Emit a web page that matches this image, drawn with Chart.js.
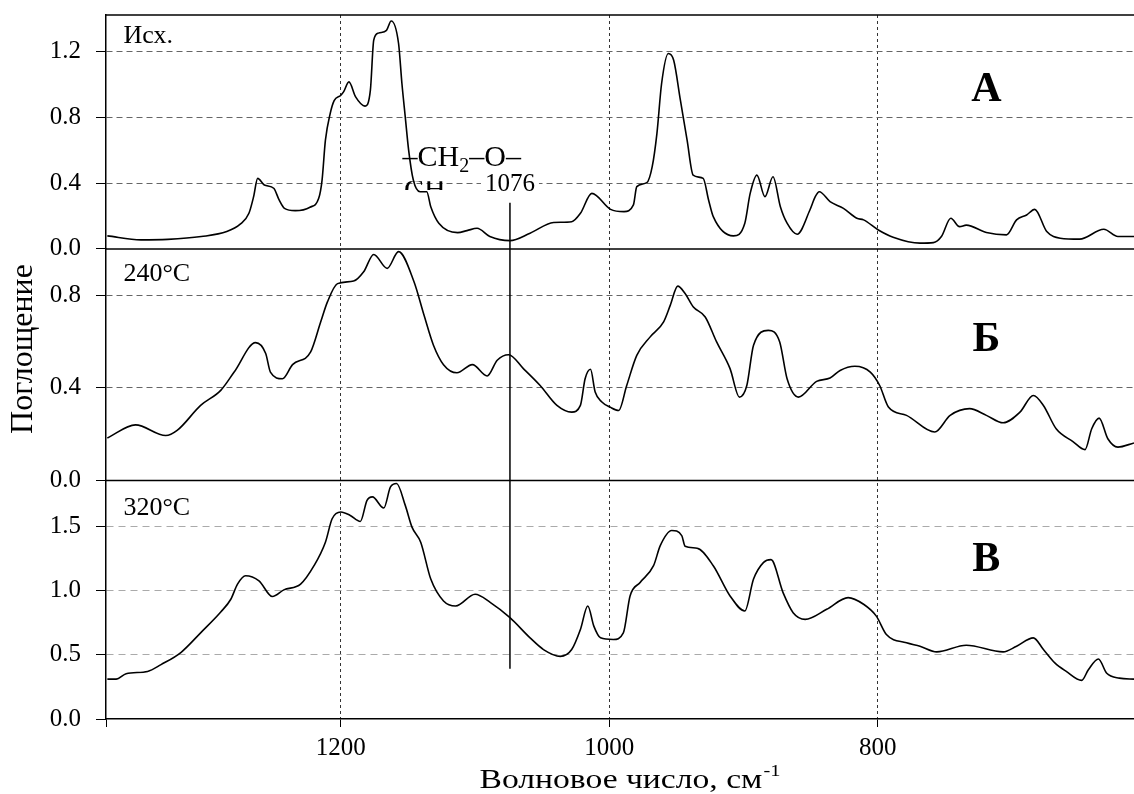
<!DOCTYPE html>
<html>
<head>
<meta charset="utf-8">
<script src="https://cdn.jsdelivr.net/npm/chart.js@4.4.1/dist/chart.umd.min.js"></script>
<style>
  html, body { margin: 0; padding: 0; background: #fff; }
  #wrap { width: 1134px; height: 794px; }
</style>
</head>
<body>
<div id="wrap"><canvas id="ir" width="1134" height="794"></canvas></div>
<script>
// spectrum А (initial sample): wavenumber, cm-1 and absorbance
var waveA = [1374, 1349, 1329, 1304, 1285, 1275, 1268.5, 1265, 1262, 1257, 1250, 1246, 1242, 1234, 1223, 1216.5, 1214, 1211.5, 1208, 1205,
    1200, 1198, 1194, 1189, 1182, 1178, 1175.5, 1172, 1166, 1162.5, 1157, 1154.5, 1152, 1149.5, 1146, 1141, 1136, 1133, 1127, 1113,
    1106, 1098.5, 1089, 1074, 1059, 1041.5, 1028, 1021.5, 1013, 999, 989, 982, 979.5, 972, 968, 964.5, 961, 956, 952, 947,
    942, 937.5, 930, 926, 922.5, 907.5, 899, 895, 890, 884, 878, 872.5, 867.5, 860, 850.5, 846.5, 843.5, 835.5, 825.5, 815.5,
    810.5, 799.5, 788.5, 768.5, 758.5, 752.5, 745.5, 739, 734, 719, 704, 696.5, 689, 683, 674, 664, 649.5, 631.5, 621, 609];
var absA = [0.079, 0.055, 0.058, 0.075, 0.105, 0.15, 0.216, 0.317, 0.428, 0.388, 0.368, 0.297, 0.246, 0.232, 0.253, 0.307, 0.418, 0.66, 0.82, 0.90,
    0.933, 0.953, 1.014, 0.923, 0.867, 0.964, 1.267, 1.31, 1.327, 1.384, 1.247, 1.004, 0.80, 0.60, 0.418, 0.347, 0.347, 0.256, 0.156, 0.099,
    0.111, 0.125, 0.075, 0.05, 0.095, 0.16, 0.165, 0.216, 0.337, 0.24, 0.226, 0.267, 0.378, 0.402, 0.499, 0.70, 1.004, 1.186, 1.145, 0.903,
    0.66, 0.448, 0.428, 0.297, 0.196, 0.079, 0.156, 0.337, 0.448, 0.317, 0.438, 0.256, 0.156, 0.089, 0.236, 0.317, 0.347, 0.287, 0.246, 0.186,
    0.176, 0.115, 0.071, 0.035, 0.038, 0.075, 0.186, 0.135, 0.144, 0.099, 0.085, 0.176, 0.206, 0.24, 0.105, 0.065, 0.059, 0.119, 0.075, 0.075];

// spectrum Б (240°C)
var waveB = [1374, 1353, 1330.5, 1322, 1304.5, 1289.5, 1279.5, 1263.5, 1256, 1252.5, 1243.5, 1236, 1222.5, 1215, 1210, 1202.5, 1190.5, 1183, 1175.5, 1165.5,
    1157, 1145.5, 1138, 1131, 1123.5, 1113.5, 1102, 1091, 1083.5, 1075, 1064, 1051.5, 1039, 1028, 1021.5, 1018, 1014, 1010.5, 1005.5, 999.5,
    993, 987, 979.5, 969.5, 959.5, 954.5, 949, 943.5, 937.5, 928.5, 920, 910, 903, 897.5, 892.5, 881.5, 873, 867.5, 859, 845.5,
    835.5, 828, 817, 805.5, 798.5, 792, 778.5, 757.5, 746, 731.5, 719, 706.5, 694, 684, 676.5, 667, 654.5, 645.5, 640.5, 635,
    628.5, 621, 609];
var absB = [0.183, 0.24, 0.194, 0.216, 0.324, 0.389, 0.468, 0.595, 0.548, 0.468, 0.439, 0.50, 0.555, 0.685, 0.771, 0.85, 0.861, 0.901, 0.976, 0.916,
    0.988, 0.858, 0.713, 0.584, 0.50, 0.465, 0.50, 0.451, 0.519, 0.543, 0.483, 0.41, 0.324, 0.295, 0.324, 0.439, 0.48, 0.382, 0.339, 0.317,
    0.302, 0.41, 0.54, 0.62, 0.685, 0.757, 0.839, 0.807, 0.75, 0.706, 0.598, 0.483, 0.36, 0.41, 0.584, 0.648, 0.598, 0.439, 0.36, 0.428,
    0.442, 0.475, 0.493, 0.468, 0.41, 0.317, 0.281, 0.209, 0.281, 0.31, 0.281, 0.249, 0.295, 0.367, 0.324, 0.223, 0.168, 0.133, 0.223, 0.269,
    0.18, 0.144, 0.162];

// spectrum В (320°C)
var waveV = [1374, 1367.5, 1360, 1344, 1334, 1319, 1304.5, 1289.5, 1282, 1277, 1271, 1261, 1251, 1242.5, 1230, 1220, 1211.5, 1206.5, 1200, 1193,
    1185.5, 1180.5, 1176.5, 1168, 1163, 1158.5, 1152, 1147, 1140.5, 1133, 1123.5, 1114.5, 1100, 1088.5, 1074, 1059, 1049, 1036.5, 1028, 1021.5,
    1016, 1011.5, 1006.5, 997, 989.5, 984.5, 977, 967, 962, 953.5, 946, 943.5, 934.5, 922.5, 910, 899, 892.5, 885, 879.5, 870.5,
    863, 854, 838, 822, 810.5, 801, 793.5, 778.5, 768.5, 756, 734, 706.5, 696.5, 684, 676.5, 668, 659.5, 648, 643, 635.5,
    629.5, 620, 609];
var absV = [0.31, 0.31, 0.352, 0.37, 0.423, 0.519, 0.67, 0.832, 0.931, 1.049, 1.114, 1.074, 0.952, 1.004, 1.049, 1.192, 1.375, 1.557, 1.61, 1.583,
    1.536, 1.70, 1.727, 1.641, 1.805, 1.831, 1.661, 1.492, 1.375, 1.088, 0.918, 0.879, 0.97, 0.905, 0.788, 0.631, 0.54, 0.487, 0.54, 0.696,
    0.879, 0.722, 0.631, 0.618, 0.67, 0.957, 1.062, 1.192, 1.348, 1.466, 1.426, 1.343, 1.328, 1.192, 0.957, 0.84, 1.088, 1.218, 1.239, 0.983,
    0.827, 0.775, 0.853, 0.944, 0.892, 0.80, 0.657, 0.592, 0.566, 0.522, 0.574, 0.522, 0.566, 0.631, 0.54, 0.436, 0.37, 0.30, 0.383, 0.467,
    0.358, 0.318, 0.31];

// axis ticks
var xTicks = [1200, 1000, 800];
var ticksA = [0, 0.4, 0.8, 1.2];
var ticksB = [0, 0.4, 0.8];
var ticksV = [0, 0.5, 1.0, 1.5];

// panel captions
var panelLetters = ['А', 'Б', 'В'];
var panelTemps = ['Исх.', '240°C', '320°C'];
var bandWave = 1074;
var bandLabel = '1076';

var SERIF = '"Liberation Serif", "Times New Roman", serif';
Chart.defaults.font.family = SERIF;
Chart.defaults.color = '#000';

function toPoints(w, a) {
    return w.map(function (x, i) { return { x: x, y: a[i] }; });
}

function spectrum(w, a, axis) {
    return {
        data: toPoints(w, a),
        yAxisID: axis,
        borderColor: '#000',
        borderWidth: 1.6,
        pointRadius: 0,
        cubicInterpolationMode: 'monotone',
        fill: false
    };
}

// one y axis per panel, stacked on the left
function panelAxis(maxVal, ticks, weight, gridColor, dash) {
    return {
        type: 'linear',
        position: 'left',
        stack: 'spectra',
        stackWeight: weight,
        min: 0,
        max: maxVal,
        afterBuildTicks: function (s) { s.ticks = ticks.map(function (v) { return { value: v }; }); },
        afterFit: function (s) {
            s.width = 106;
            // labels never reach the chart edge, so no extra room above
            s.paddingTop = 0;
            s.paddingBottom = 0;
        },
        ticks: {
            font: { size: 25, family: SERIF },
            color: '#000',
            padding: 15,
            autoSkip: false,
            callback: function (v) { return v.toFixed(1); }
        },
        grid: {
            color: function (ctx) { return ctx.tick && ctx.tick.value === 0 ? 'rgba(0,0,0,0)' : gridColor; },
            tickColor: '#000',
            tickLength: 10,
            lineWidth: 1
        },
        border: { color: '#000', width: 1.5, dash: dash }
    };
}

// texts, panel separators and the 1076 marker
var annotate = {
    id: 'annotate',
    afterDatasetsDraw: function (chart) {
        var ctx = chart.ctx;
        var area = chart.chartArea;
        var x = chart.scales.x;
        var panels = [chart.scales.yA, chart.scales.yB, chart.scales.yV];

        ctx.save();
        // solid lines between the panels
        ctx.strokeStyle = '#000';
        ctx.lineWidth = 1.5;
        panels.forEach(function (s) {
            ctx.beginPath();
            ctx.moveTo(area.left, s.top);
            ctx.lineTo(area.right, s.top);
            ctx.stroke();
        });

        // vertical marker of the CH2-O band
        var bx = x.getPixelForValue(bandWave);
        ctx.beginPath();
        ctx.moveTo(bx, chart.scales.yA.getPixelForValue(0.28));
        ctx.lineTo(bx, chart.scales.yV.getPixelForValue(0.39));
        ctx.stroke();

        // temperature captions and panel letters
        var tempY = [1.25, 0.86, 1.59];
        var letterY = [0.90, 0.56, 1.15];
        ctx.fillStyle = '#000';
        ctx.textBaseline = 'alphabetic';
        panels.forEach(function (s, i) {
            ctx.font = '26px ' + SERIF;
            ctx.textAlign = 'left';
            ctx.fillText(panelTemps[i], x.getPixelForValue(1362), s.getPixelForValue(tempY[i]));
            ctx.font = 'bold 42px ' + SERIF;
            ctx.textAlign = 'center';
            ctx.fillText(panelLetters[i], x.getPixelForValue(719), s.getPixelForValue(letterY[i]));
        });

        // band label with white backing
        var yA = chart.scales.yA;
        ctx.font = '25px ' + SERIF;
        ctx.textAlign = 'center';
        var lw = ctx.measureText(bandLabel).width;
        var ly = yA.getPixelForValue(0.35);
        ctx.fillStyle = '#fff';
        ctx.fillRect(bx - lw / 2 - 4, ly - 19, lw + 8, 23);
        ctx.fillStyle = '#000';
        ctx.fillText(bandLabel, bx, ly);

        // -CH2-O- formula
        var fx = x.getPixelForValue(1154);
        var fy = yA.getPixelForValue(0.505);
        ctx.textAlign = 'left';
        ctx.font = '30px ' + SERIF;
        ctx.fillText('–CH', fx, fy);
        fx += ctx.measureText('–CH').width;
        ctx.font = '20px ' + SERIF;
        ctx.fillText('2', fx, fy + 6);
        fx += ctx.measureText('2').width;
        ctx.font = '30px ' + SERIF;
        ctx.fillText('–O–', fx, fy);

        // partly hidden "CH" under the formula
        ctx.save();
        ctx.beginPath();
        ctx.rect(x.getPixelForValue(1154), yA.getPixelForValue(0.41), 60, yA.getPixelForValue(0.357) - yA.getPixelForValue(0.41));
        ctx.clip();
        ctx.fillText('CH', x.getPixelForValue(1153), yA.getPixelForValue(0.305));
        ctx.restore();

        // axis titles
        ctx.font = '32px ' + SERIF;
        ctx.save();
        ctx.translate(24, (area.top + area.bottom) / 2 - 18);
        ctx.rotate(-Math.PI / 2);
        ctx.textAlign = 'center';
        ctx.textBaseline = 'middle';
        ctx.fillText('Поглощение', 0, 0);
        ctx.restore();

        // x title, a bit wider than the plain font
        var main = 'Волновое число, см';
        var stretch = 1.2;
        ctx.font = '28px ' + SERIF;
        var w1 = ctx.measureText(main).width;
        ctx.font = '17px ' + SERIF;
        var w2 = ctx.measureText('-1').width;
        var cx = (area.left + area.right) / 2 + 10;
        ctx.save();
        ctx.translate(cx - stretch * (w1 + w2 + 1) / 2, 788);
        ctx.scale(stretch, 1);
        ctx.textAlign = 'left';
        ctx.font = '28px ' + SERIF;
        ctx.fillText(main, 0, 0);
        ctx.font = '17px ' + SERIF;
        ctx.fillText('-1', w1 + 1, -12);
        ctx.restore();
        ctx.restore();
    }
};

new Chart(document.getElementById('ir'), {
    type: 'line',
    data: {
        datasets: [
            spectrum(waveA, absA, 'yA'),
            spectrum(waveB, absB, 'yB'),
            spectrum(waveV, absV, 'yV')
        ]
    },
    options: {
        responsive: false,
        devicePixelRatio: 1,
        animation: false,
        layout: { padding: { top: 15, left: 0, right: 0, bottom: 0 } },
        plugins: { legend: { display: false }, tooltip: { enabled: false } },
        scales: {
            x: {
                type: 'linear',
                position: 'bottom',
                min: 609,
                max: 1375,
                reverse: true,
                afterBuildTicks: function (s) {
                    s.ticks = [s.max].concat(xTicks).map(function (v) { return { value: v }; });
                },
                afterFit: function (s) { s.height = 75; },
                ticks: {
                    font: { size: 25, family: SERIF },
                    color: '#000',
                    padding: 6,
                    maxRotation: 0,
                    autoSkip: false,
                    callback: function (v) { return xTicks.indexOf(v) >= 0 ? String(v) : ''; }
                },
                grid: {
                    color: function (ctx) { return ctx.tick && xTicks.indexOf(ctx.tick.value) >= 0 ? '#333' : 'rgba(0,0,0,0)'; },
                    tickColor: '#000',
                    tickLength: 8,
                    lineWidth: 1
                },
                border: { color: '#000', width: 1.5, dash: [3, 3] }
            },
            // order matters: the last stacked axis is placed on top
            yV: panelAxis(1.855, ticksV, 1.02, '#aaa', [7, 5]),
            yB: panelAxis(1.0, ticksB, 0.99, '#666', [6, 4]),
            yA: panelAxis(1.42, ticksA, 1.0, '#666', [6, 4])
        }
    },
    plugins: [annotate]
});
</script>
</body>
</html>
